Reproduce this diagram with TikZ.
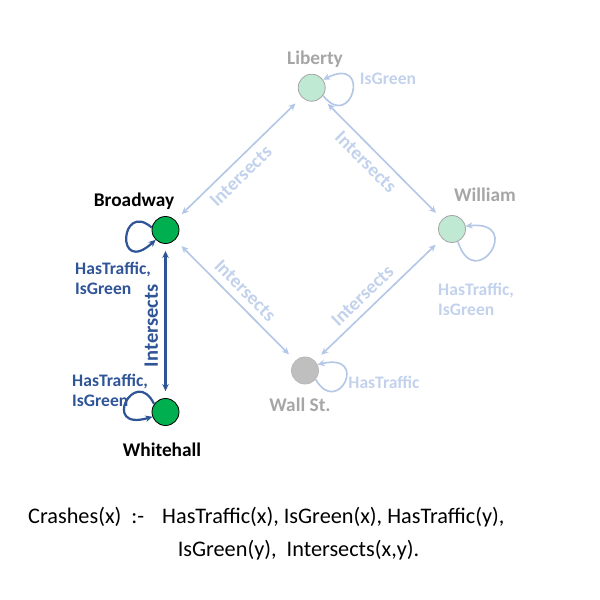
\documentclass[tikz,border=0pt]{standalone}
\usepackage{fontspec}
\setmainfont{Carlito}
\usetikzlibrary{arrows.meta}

\definecolor{darkBlue}{HTML}{2F5597}
\definecolor{paleBlue}{HTML}{B4C7E7}
\definecolor{paleText}{HTML}{C3D2EC}
\definecolor{nameGray}{HTML}{A6A6A6}
\definecolor{lightGreen}{HTML}{00B050}
\definecolor{paleGreen}{HTML}{C0E9D4}
\definecolor{stopGray}{HTML}{BFBFBF}

\tikzset{
    street/.style={circle, minimum size=0.81cm, inner sep=0pt, line width=0.7pt},
    greenStreet/.style={street, draw=black, fill=lightGreen},
    paleStreet/.style={street, draw=nameGray, fill=paleGreen},
    grayStreet/.style={street, draw=nameGray!80, fill=stopGray},
    streetName/.style={font=\fontsize{16.5}{18}\selectfont\bfseries, inner sep=0pt},
    relText/.style={font=\fontsize{15}{17}\selectfont\bfseries, inner sep=0pt, align=left},
    darkEdge/.style={draw=darkBlue, line width=1.9pt},
    paleEdge/.style={draw=paleBlue, line width=1.4pt}
}

\begin{document}
\begin{tikzpicture}[x=0.03cm, y=-0.03cm, >={Stealth[length=6pt,width=5.5pt]}]
    \useasboundingbox (0,0) rectangle (600,600);

    %ruas
    \foreach \name/\x/\y/\kind in {
        broadway/165.5/230/greenStreet, whitehall/165.5/412/greenStreet,
        liberty/311.7/87.7/paleStreet, william/452/229/paleStreet,
        wallst/305/370.5/grayStreet} {
        \node[\kind] (\name) at (\x,\y) {};
    }

    \foreach \name/\x/\y/\txt/\col in {
        broadwayName/134/201/Broadway/black, whitehallName/162/450/Whitehall/black,
        libertyName/315/59/Liberty/nameGray, williamName/485/195/William/nameGray,
        wallstName/300/405/Wall St./nameGray} {
        \node[streetName, text=\col] (\name) at (\x,\y) {\txt};
    }

    %cruzamentos
    \draw[darkEdge, <->, shorten <=6pt, shorten >=6pt] (whitehall) --
        node[pos=0.47, sloped, above=2pt, text=darkBlue, font=\fontsize{17.5}{19}\selectfont\bfseries] (vertInter) {Intersects} (broadway);

    \foreach \a/\b/\side/\where/\nm in {
        broadway/liberty/below/0.44/interA, liberty/william/below/0.45/interB,
        broadway/wallst/above/0.5/interC, wallst/william/above/0.45/interD} {
        \draw[paleEdge, <->, shorten <=7.5pt, shorten >=7.5pt] (\a) --
            node[pos=\where, sloped, \side=2.5pt, text=paleText, font=\fontsize{16.5}{18}\selectfont\bfseries] (\nm) {Intersects} (\b);
    }

    %lacos
    \draw[darkEdge, ->] (broadway.170) .. controls (120,200) and (115,277) .. (broadway.225);
    \draw[darkEdge, ->] (whitehall.145) .. controls (135,365) and (100,432) .. (whitehall.200);
    \draw[paleEdge, ->] (liberty.-35) .. controls (352,132) and (372,55) .. (liberty.35);
    \draw[paleEdge, ->] (william.-65) .. controls (475,295) and (525,220) .. (william.12);
    \draw[paleEdge, ->] (wallst.-40) .. controls (338,418) and (370,352) .. (wallst.25);

    \node[relText, text=darkBlue, anchor=west] (broadwayRel) at (75,278) {HasTraffic,\\IsGreen};
    \node[relText, text=darkBlue, anchor=west] (whitehallRel) at (72,390) {HasTraffic,\\IsGreen};
    \node[relText, text=paleText] (libertyRel) at (388,79) {IsGreen};
    \node[relText, text=paleText, anchor=west] (williamRel) at (438,299.5) {HasTraffic,\\IsGreen};
    \node[relText, text=paleText] (wallstRel) at (384,382) {HasTraffic};

    %regra
    \node[anchor=west, inner sep=0pt, font=\fontsize{19}{28}\selectfont] (ruleHead) at (28,517) {Crashes(x)\ \ :-};
    \node[anchor=north west, inner sep=0pt, align=left, font=\fontsize{19}{28}\selectfont] (ruleBody) at (162,507)
        {HasTraffic(x), IsGreen(x), HasTraffic(y),\\\hspace*{0.7em}IsGreen(y),\ \ Intersects(x,y).};
\end{tikzpicture}
\end{document}
